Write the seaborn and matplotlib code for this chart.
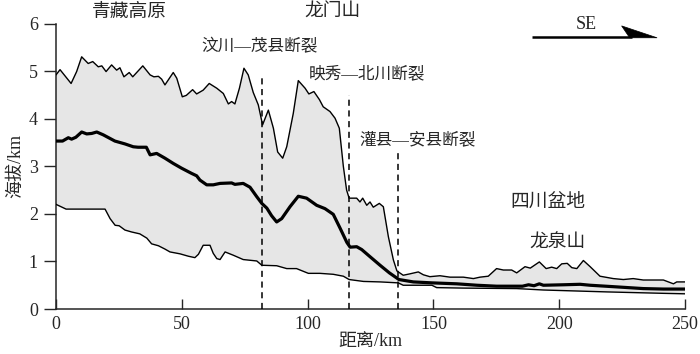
import numpy as np
import matplotlib
matplotlib.use("Agg")
import matplotlib.pyplot as plt
import seaborn as sns

# ---------------- data ----------------
max_km = [0, 1.6, 6, 8.2, 10.2, 12.8, 14.6, 16.8, 18.2, 19.9, 22.1, 24.1, 25.4, 27, 29.1, 30.5,
          34.5, 37.4, 38.9, 40.7, 42, 43.3, 46.6, 48, 50.2, 51.8, 54.3, 55.9, 58.5, 60.9, 63.9,
          66.5, 68.5, 69.8, 71.1, 72.9, 74.7, 76.4, 78.4, 80.4, 82.1, 84.4, 86.4, 88.1, 90.1,
          91.7, 94.3, 96.3, 99, 100.5, 102.5, 104.7, 106.2, 108.9, 110.9, 112.6, 114.2, 115.5,
          116.5, 119.5, 120.8, 121.9, 123.5, 124.8, 126.1, 128.5, 130.1, 132.1, 134.1, 135.5,
          138, 140.7, 144, 146, 148.6, 152.6, 156.6, 161.9, 165.9, 168.5, 171.8, 175.1, 177.8,
          181.1, 183.1, 186.4, 188.5, 192.1, 194.8, 197, 199, 201, 203.2, 205, 207, 209.6,
          212.3, 216.2, 221.5, 225.5, 229.4, 233.4, 241.4, 245.4, 246.7, 250]
max_elev = [4.92, 5.03, 4.74, 4.99, 5.30, 5.16, 5.20, 5.09, 5.11, 4.99, 5.13, 5.02, 5.07, 4.88,
            4.97, 4.88, 5.11, 4.92, 4.88, 4.89, 4.83, 4.71, 4.97, 4.85, 4.46, 4.49, 4.61, 4.52,
            4.60, 4.74, 4.64, 4.53, 4.31, 4.36, 4.31, 4.64, 5.06, 4.92, 4.55, 4.29, 3.87, 4.18,
            3.80, 3.30, 3.17, 3.41, 4.11, 4.80, 4.64, 4.52, 4.57, 4.40, 4.25, 4.15, 4.01, 3.80,
            3.00, 2.50, 2.33, 2.33, 2.25, 2.33, 2.18, 2.25, 2.14, 2.22, 2.15, 1.52, 1.03, 0.80,
            0.71, 0.74, 0.78, 0.72, 0.68, 0.70, 0.67, 0.67, 0.64, 0.67, 0.69, 0.85, 0.82, 0.82,
            0.76, 0.89, 0.86, 0.99, 0.85, 0.88, 0.85, 0.95, 0.96, 0.87, 0.85, 1.02, 0.89, 0.69,
            0.64, 0.62, 0.64, 0.61, 0.61, 0.53, 0.57, 0.57]

mean_km = [0, 2.6, 4.9, 6.2, 7.9, 10.2, 12.2, 14.2, 16.2, 18.8, 23.4, 27.4, 30.7, 32.6, 35.9,
           37.4, 40, 43.3, 46.6, 49.9, 53.9, 55.9, 57.2, 59.9, 62.5, 65.2, 69.8, 71.1, 74.4,
           77.1, 79.8, 81.8, 83.8, 85.7, 87.7, 89.7, 93, 96.3, 99.6, 103.6, 106.9, 110.2, 112.9,
           115.6, 116.9, 119.5, 121.5, 124.8, 128.8, 132.5, 136.3, 142, 149.4, 159.3, 167.3,
           175.1, 185.4, 187.8, 190, 192.1, 193.7, 201.7, 208.3, 212.3, 221.5, 233.4, 241.4, 250]
mean_elev = [3.53, 3.53, 3.60, 3.57, 3.61, 3.72, 3.68, 3.69, 3.72, 3.66, 3.53, 3.47, 3.41, 3.40,
             3.40, 3.24, 3.27, 3.17, 3.06, 2.96, 2.85, 2.80, 2.71, 2.61, 2.61, 2.64, 2.65, 2.62,
             2.64, 2.56, 2.36, 2.22, 2.12, 1.96, 1.83, 1.90, 2.15, 2.37, 2.33, 2.18, 2.11, 1.99,
             1.70, 1.40, 1.30, 1.31, 1.25, 1.10, 0.92, 0.76, 0.62, 0.57, 0.55, 0.53, 0.50, 0.48,
             0.48, 0.51, 0.49, 0.53, 0.50, 0.51, 0.52, 0.50, 0.47, 0.43, 0.42, 0.42]

min_km = [0, 4, 19.5, 21.5, 23.5, 25.1, 27.4, 30, 33.3, 36.1, 38, 40.7, 43.3, 45.3, 49.3, 52.6,
          55.2, 56.6, 58.5, 61.2, 62.5, 63.9, 65.2, 67.2, 70.5, 74.4, 79.8, 81.8, 87.7, 91.7,
          95.6, 100.3, 104.9, 110.2, 114.2, 116.5, 122.2, 128.8, 136, 138, 149.4, 151.3, 161.9,
          183.1, 193.7, 218.9, 241.4, 250]
min_elev = [2.20, 2.10, 2.10, 1.90, 1.76, 1.75, 1.66, 1.62, 1.58, 1.49, 1.37, 1.33, 1.26, 1.20,
            1.16, 1.11, 1.08, 1.15, 1.34, 1.34, 1.17, 1.06, 1.04, 1.20, 1.13, 1.04, 1.01, 0.92,
            0.91, 0.85, 0.85, 0.75, 0.75, 0.73, 0.69, 0.62, 0.58, 0.57, 0.55, 0.50, 0.50, 0.45,
            0.44, 0.43, 0.40, 0.36, 0.33, 0.32]

# faults: position (km), top of dashed line (km a.s.l.)
fault_km = [81.9, 116.5, 135.9]
fault_top = [4.92, 4.50, 3.30]

# ---------------- style ----------------
sns.set_style("ticks")
plt.rcParams['font.family'] = ['Liberation Serif', 'Noto Sans CJK SC']
plt.rcParams['axes.unicode_minus'] = False

fig = plt.figure(figsize=(7, 3.54), dpi=100)
ax = fig.add_axes([0.08, 0.127, 0.8986, 0.8066])

# grey band between max and min
ax.fill(np.r_[max_km, min_km[::-1]], np.r_[max_elev, min_elev[::-1]],
        color='#e6e6e6', lw=0, zorder=1)

sns.lineplot(x=max_km, y=max_elev, ax=ax, color='black', lw=1.0, sort=False,
             estimator=None, zorder=3)
sns.lineplot(x=min_km, y=min_elev, ax=ax, color='black', lw=1.0, sort=False,
             estimator=None, zorder=3)
sns.lineplot(x=mean_km, y=mean_elev, ax=ax, color='black', lw=2.3, sort=False,
             estimator=None, zorder=4)

for fx, ft in zip(fault_km, fault_top):
    ax.plot([fx, fx], [0, ft], color='black', lw=1.1, ls=(0, (4, 3)), zorder=5)

ax.set_xlim(0, 250)
ax.set_ylim(0, 6)
ax.set_xticks([0, 50, 100, 150, 200, 250])
ax.set_yticks([0, 1, 2, 3, 4, 5, 6])
ax.tick_params(axis='x', direction='in', length=7, width=1, labelsize=13, pad=5)
ax.tick_params(axis='y', direction='out', length=9, width=1, labelsize=13, pad=4)
for s in ['left', 'bottom']:
    ax.spines[s].set_linewidth(1.1)
sns.despine(ax=ax)

ax.set_xlabel('距离/km', fontsize=13, labelpad=0)
ax.set_ylabel('海拔/km', fontsize=13, labelpad=3)

# region labels
ax.text(29, 6.23, '青藏高原', fontsize=13.5, ha='center', va='center', clip_on=False)
ax.text(109.7, 6.23, '龙门山', fontsize=13.5, ha='center', va='center', clip_on=False)
ax.text(80.8, 5.51, '汶川—茂县断裂', fontsize=12, ha='center', va='center')
ax.text(123.4, 4.93, '映秀—北川断裂', fontsize=12, ha='center', va='center')
ax.text(143.7, 3.55, '灌县—安县断裂', fontsize=12, ha='center', va='center')
ax.text(195.3, 2.24, '四川盆地', fontsize=13.5, ha='center', va='center')
ax.text(199.3, 1.38, '龙泉山', fontsize=13.5, ha='center', va='center')

# direction arrow
ax.text(210.6, 5.97, 'SE', fontsize=13, ha='center', va='center')
ax.plot([189, 229], [5.71, 5.71], color='black', lw=1.8, solid_capstyle='butt')
ax.add_patch(plt.Polygon([[224.8, 5.95], [238.9, 5.70], [228.0, 5.70]],
                         closed=True, color='black', lw=0.5))

fig.savefig('out.png', dpi=100)
